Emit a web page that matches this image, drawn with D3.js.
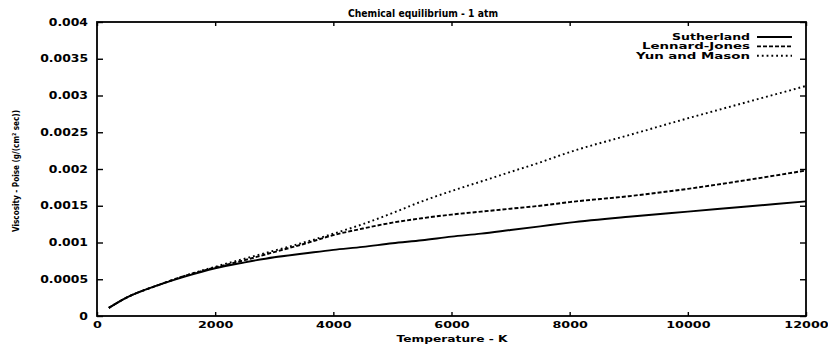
<!DOCTYPE html>
<html>
<head>
<meta charset="utf-8">
<script src="https://cdn.jsdelivr.net/npm/d3@7"></script>
<style>
  body { margin: 0; background: #fff; }
  svg { display: block; }
  text { font-family: "DejaVu Sans", sans-serif; fill: #000; }
</style>
</head>
<body>
<svg id="chart" width="828" height="348"></svg>
<script>
// temperatures (K) where the curves were read
const temps = [200, 500, 1000, 1500, 2000, 2500, 3000, 3500, 4000, 4500, 5000,
  5500, 6000, 6500, 7000, 7500, 8000, 9000, 10000, 11000, 12000];

// viscosity, poise
const sutherland = [0.00011, 0.00025, 0.00041, 0.00054, 0.00065, 0.00073, 0.0008,
  0.00085, 0.0009, 0.00094, 0.00099, 0.00103, 0.00108, 0.00112, 0.00117, 0.00122,
  0.00127, 0.00135, 0.00142, 0.00149, 0.00156];
const lennardJones = [0.00011, 0.00025, 0.00041, 0.00055, 0.00066, 0.00076, 0.00087,
  0.00098, 0.0011, 0.00119, 0.00127, 0.00133, 0.00138, 0.00142, 0.00146, 0.0015,
  0.00155, 0.00163, 0.00173, 0.00185, 0.00198];
const yunMason = [0.00011, 0.00025, 0.00041, 0.00055, 0.00067, 0.00078, 0.00089,
  0.001, 0.00112, 0.00125, 0.0014, 0.00156, 0.0017, 0.00183, 0.00196, 0.00209,
  0.00223, 0.00246, 0.00269, 0.00291, 0.00313];

const seriesNames = ["Sutherland", "Lennard-Jones", "Yun and Mason"];
const seriesValues = [sutherland, lennardJones, yunMason];
const dashes = [null, "4,2", "1.8,3"];

const xTicks = [0, 2000, 4000, 6000, 8000, 10000, 12000];
const yTicks = [0, 0.0005, 0.001, 0.0015, 0.002, 0.0025, 0.003, 0.0035, 0.004];

const margin = { top: 22, right: 22, bottom: 32, left: 97 };
const width = 828 - margin.left - margin.right;
const height = 348 - margin.top - margin.bottom;

const svg = d3.select("#chart");
const g = svg.append("g").attr("transform", `translate(${margin.left},${margin.top})`);

const x = d3.scaleLinear().domain([0, 12000]).range([0, width]);
const y = d3.scaleLinear().domain([0, 0.004]).range([height, 0]);

// widen the glyphs a bit, the scan uses a stretched bold font
const stretch = (sel, k) => sel.each(function () {
  const len = this.getComputedTextLength();
  d3.select(this).attr("textLength", len * k).attr("lengthAdjust", "spacingAndGlyphs");
});

const tickText = (sel) => sel.selectAll("text")
  .style("font-size", "10px").style("font-weight", "bold");

const xAxis = g.append("g").attr("transform", `translate(0,${height})`)
  .call(d3.axisBottom(x).tickValues(xTicks).tickFormat(d3.format("d"))
    .tickSizeInner(-4).tickSizeOuter(0).tickPadding(5));
xAxis.call(tickText);
xAxis.selectAll("text").style("font-size", "9.5px").call(stretch, 1.34);

const yAxis = g.append("g")
  .call(d3.axisLeft(y).tickValues(yTicks).tickFormat((d) => String(+d.toFixed(4)))
    .tickSizeInner(-6).tickSizeOuter(0).tickPadding(9));
yAxis.call(tickText);
yAxis.selectAll("text").call(stretch, 1.24);

// mirrored ticks on top and right
g.append("g")
  .call(d3.axisTop(x).tickValues(xTicks).tickFormat("").tickSizeInner(-4).tickSizeOuter(0));
g.append("g").attr("transform", `translate(${width},0)`)
  .call(d3.axisRight(y).tickValues(yTicks).tickFormat("").tickSizeInner(-6).tickSizeOuter(0));

g.selectAll(".domain").remove();
g.selectAll(".tick line").attr("stroke", "#000").attr("stroke-width", 1.4);

g.append("rect")
  .attr("width", width).attr("height", height)
  .attr("fill", "none").attr("stroke", "#000").attr("stroke-width", 1.8);

const line = d3.line()
  .x((d) => x(d[0]))
  .y((d) => y(d[1]))
  .curve(d3.curveMonotoneX);

seriesValues.forEach((vals, i) => {
  g.append("path")
    .datum(temps.map((t, j) => [t, vals[j]]))
    .attr("fill", "none")
    .attr("stroke", "#000")
    .attr("stroke-width", 1.9)
    .attr("stroke-dasharray", dashes[i])
    .attr("d", line);
});

// legend, top right inside the frame
const legendWidths = [78, 108, 114];
const legend = g.append("g");
seriesNames.forEach((name, i) => {
  const ly = 15 + i * 9.4;
  legend.append("line")
    .attr("x1", width - 49).attr("x2", width - 14)
    .attr("y1", ly).attr("y2", ly)
    .attr("stroke", "#000").attr("stroke-width", 1.9)
    .attr("stroke-dasharray", dashes[i]);
  legend.append("text")
    .attr("x", width - 56).attr("y", ly + 3)
    .attr("text-anchor", "end")
    .style("font-size", "8px").style("font-weight", "bold")
    .attr("textLength", legendWidths[i]).attr("lengthAdjust", "spacingAndGlyphs")
    .text(name);
});

svg.append("text")
  .attr("x", 423).attr("y", 17)
  .attr("text-anchor", "middle")
  .style("font-size", "10px").style("font-weight", "bold")
  .attr("textLength", 150).attr("lengthAdjust", "spacingAndGlyphs")
  .text("Chemical equilibrium - 1 atm");

svg.append("text")
  .attr("x", 452).attr("y", 342)
  .attr("text-anchor", "middle")
  .style("font-size", "9px").style("font-weight", "bold")
  .attr("textLength", 111).attr("lengthAdjust", "spacingAndGlyphs")
  .text("Temperature - K");

svg.append("text")
  .attr("transform", "translate(19,171) rotate(-90)")
  .attr("text-anchor", "middle")
  .style("font-family", "'DejaVu Sans Condensed', 'DejaVu Sans', sans-serif")
  .style("font-size", "9.5px").style("font-weight", "bold")
  .attr("textLength", 122).attr("lengthAdjust", "spacingAndGlyphs")
  .text("Viscosity - Poise (g/(cm² sec))");
</script>
</body>
</html>
